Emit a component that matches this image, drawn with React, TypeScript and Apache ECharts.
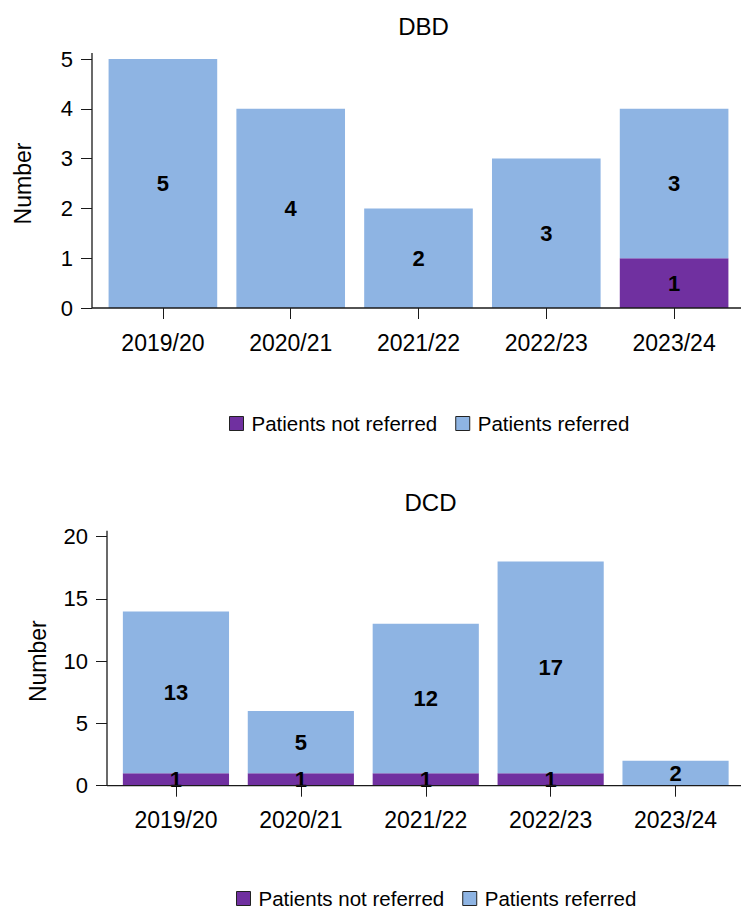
import React, { useEffect, useRef } from "react";
import * as echarts from "echarts";

const categories = ["2019/20", "2020/21", "2021/22", "2022/23", "2023/24"];
const seriesNames = ["Patients not referred", "Patients referred"];
const dbdNotReferred = [0, 0, 0, 0, 1];
const dbdReferred = [5, 4, 2, 3, 3];
const dcdNotReferred = [1, 1, 1, 1, 0];
const dcdReferred = [13, 5, 12, 17, 2];
const panelTitles = ["DBD", "DCD"];
const axisMax = [5, 20];
const axisInterval = [1, 5];

const PURPLE = "#7030A0";
const BLUE = "#8EB4E3";
const FONT = "'Liberation Sans', Arial, Helvetica, sans-serif";
const AXIS = "#1a1a1a";

const grids = [
  { left: 99, right: 3, top: 59, height: 249 },
  { left: 113.5, right: 3, top: 536.7, height: 249 },
];
const yOffset = [7, 6.5];
const titlePos = [
  { left: 418.5, top: 9 },
  { left: 425.5, top: 485 },
];
const legendPos = [
  { left: 224, top: 408 },
  { left: 231, top: 883 },
];

export default function App() {
  const ref = useRef<HTMLDivElement>(null);
  useEffect(() => {
    document.body.style.margin = "0";
    if (!ref.current) return;
    const chart = echarts.init(ref.current, undefined, { renderer: "svg" });
    const labelFmt = (p: any) => (p.value ? String(p.value) : "");
    const data = [
      [dbdNotReferred, dbdReferred],
      [dcdNotReferred, dcdReferred],
    ];
    const option: any = {
      animation: false,
      backgroundColor: "#fff",
      textStyle: { fontFamily: FONT },
      title: panelTitles.map((t, i) => ({
        text: t,
        left: titlePos[i].left,
        top: titlePos[i].top,
        textAlign: "center",
        textStyle: { fontFamily: FONT, fontSize: 24, fontWeight: "normal", color: "#000" },
      })),
      legend: [0, 1].map((i) => ({
        data: seriesNames,
        left: legendPos[i].left,
        top: legendPos[i].top,
        itemWidth: 14,
        itemHeight: 14,
        itemGap: 18,
        icon: "rect",
        selectedMode: false,
        itemStyle: { borderColor: "#222", borderWidth: 1 },
        textStyle: { fontFamily: FONT, fontSize: 20.5, color: "#000", padding: [0, 0, 0, 3] },
      })),
      grid: grids.map((g) => ({ ...g, containLabel: false })),
      xAxis: [0, 1].map((i) => ({
        type: "category",
        gridIndex: i,
        data: categories,
        axisLine: { show: false },
        axisTick: { show: true, alignWithLabel: true, length: 11, lineStyle: { color: AXIS } },
        axisLabel: { fontFamily: FONT, fontSize: 23, color: "#000", margin: 23 },
      })),
      yAxis: [0, 1].map((i) => ({
        type: "value",
        gridIndex: i,
        min: 0,
        max: axisMax[i],
        interval: axisInterval[i],
        offset: yOffset[i],
        name: "Number",
        nameLocation: "middle",
        nameRotate: 90,
        nameGap: 58,
        nameTextStyle: { fontFamily: FONT, fontSize: 23, color: "#000" },
        splitLine: { show: false },
        axisLine: { show: false },
        axisTick: { show: true, length: 11, lineStyle: { color: AXIS } },
        axisLabel: { fontFamily: FONT, fontSize: 22, color: "#000", margin: 19 },
      })),
      series: [0, 1].flatMap((i) =>
        seriesNames.map((name, s) => ({
          name,
          type: "bar",
          stack: "total" + i,
          xAxisIndex: i,
          yAxisIndex: i,
          data: data[i][s],
          barCategoryGap: "15%",
          itemStyle: { color: s === 0 ? PURPLE : BLUE },
          label: {
            show: true,
            position: "inside",
            formatter: labelFmt,
            fontFamily: FONT,
            fontSize: 22,
            fontWeight: "bold",
            color: "#000",
          },
        }))
      ),
    };
    chart.setOption(option);

    const lines: any[] = [];
    [0, 1].forEach((i) => {
      const axisX = grids[i].left - yOffset[i];
      const y0 = chart.convertToPixel({ yAxisIndex: i }, 0) as number;
      const yTop = (chart.convertToPixel({ yAxisIndex: i }, axisMax[i]) as number) - 6;
      lines.push({
        type: "line",
        shape: { x1: axisX, y1: y0, x2: 741, y2: y0 },
        style: { stroke: AXIS, lineWidth: 1.3 },
        z: 10,
      });
      lines.push({
        type: "line",
        shape: { x1: axisX, y1: yTop, x2: axisX, y2: y0 },
        style: { stroke: AXIS, lineWidth: 1.3 },
        z: 10,
      });
    });
    chart.setOption({ graphic: lines });

    return () => chart.dispose();
  }, []);
  return <div ref={ref} style={{ width: 741, height: 910 }} />;
}
